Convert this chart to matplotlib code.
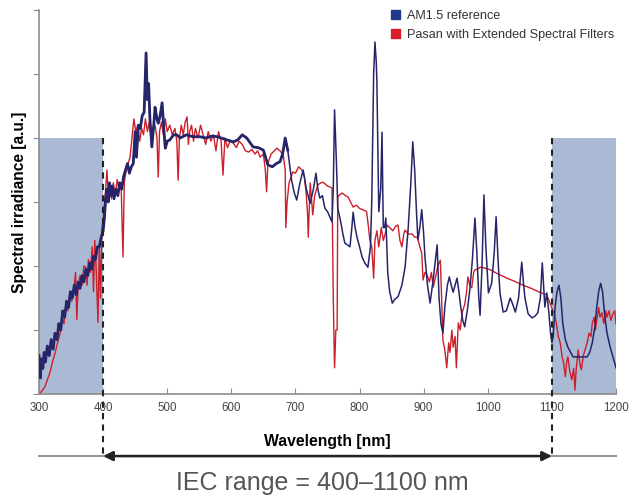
import numpy as np
import matplotlib
matplotlib.use("Agg")
import matplotlib.pyplot as plt
from matplotlib.patches import Patch

plt.rcParams['font.family'] = ['Liberation Sans', 'DejaVu Sans']

# AM1.5 reference spectrum (arbitrary units)
am15_nm = [300, 302, 304, 306, 308, 310, 313, 316, 319, 322, 325, 328, 331, 334, 337, 340, 343, 346, 349, 352,
           355, 358, 361, 364, 367, 370, 373, 376, 379, 382, 385, 388, 391, 394, 397, 400, 402, 404, 406, 408,
           410, 412, 414, 417, 420, 423, 426, 429, 432, 435, 438, 441, 444, 447, 450, 452, 455, 458, 461, 464,
           467, 469, 471, 473, 476, 479, 481, 484, 486, 489, 492, 495, 497, 500, 504, 510, 515, 520, 530, 540,
           551, 560, 570, 578, 590, 603, 610, 617, 624, 634, 642, 650, 657, 664, 670, 676, 680, 684, 688, 694,
           698, 702, 707, 712, 717, 723, 728, 732, 735, 738, 742, 746, 750, 757, 759, 761, 764, 766, 770, 774,
           777, 785, 788, 790, 793, 796, 800, 804, 808, 813, 817, 819, 822, 824, 826, 827, 829, 830, 833, 835,
           837, 839, 841, 844, 847, 851, 855, 860, 866, 871, 876, 880, 883, 886, 889, 891, 894, 897, 900, 902,
           906, 910, 915, 921, 924, 927, 930, 933, 937, 940, 943, 946, 949, 952, 955, 957, 961, 964, 968, 972,
           976, 980, 983, 986, 988, 991, 994, 997, 1001, 1006, 1010, 1013, 1016, 1019, 1024, 1029, 1035, 1039,
           1043, 1048, 1053, 1056, 1058, 1063, 1069, 1074, 1078, 1082, 1085, 1087, 1089, 1092, 1095, 1098, 1100,
           1102, 1105, 1108, 1111, 1114, 1117, 1121, 1125, 1133, 1145, 1155, 1159, 1163, 1167, 1170, 1173, 1176,
           1179, 1182, 1186, 1191, 1196, 1200]
am15_val = [0.6, 0.25, 0.55, 0.4, 0.65, 0.5, 0.75, 0.6, 0.85, 0.7, 0.95, 0.85, 1.1, 1.0, 1.3, 1.2, 1.45, 1.35, 1.6, 1.5,
            1.7, 1.55, 1.75, 1.65, 1.85, 1.75, 1.95, 1.85, 2.05, 1.95, 2.15, 2.1, 2.3, 2.3, 2.45, 2.55, 2.75, 3.05, 3.2, 3.0,
            3.3, 3.1, 3.25, 3.05, 3.2, 3.1, 3.3, 3.2, 3.4, 3.5, 3.6, 3.45, 3.55, 3.6, 4.1, 3.7, 4.2, 4.15, 4.35, 4.4,
            5.33, 4.6, 4.85, 4.3, 3.86, 4.2, 4.48, 4.3, 4.23, 4.35, 4.55, 4.1, 3.84, 3.95, 3.97, 4.05, 4.05, 4.0, 4.05, 4.02,
            4.02, 4.0, 4.03, 4.02, 3.98, 3.94, 3.97, 4.05, 4.0, 3.86, 3.85, 3.81, 3.58, 3.55, 3.6, 3.63, 3.75, 4.0, 3.81, 3.34,
            3.15, 3.03, 3.3, 3.5, 3.2, 2.98, 3.2, 3.45, 3.2, 3.06, 3.1, 2.9, 2.85, 2.69, 3.2, 4.44, 3.6, 2.9, 2.72, 2.5,
            2.36, 2.3, 2.6, 2.84, 2.6, 2.45, 2.3, 2.14, 2.05, 1.98, 2.3, 3.0, 5.0, 5.5, 5.2, 4.9, 3.5, 2.85, 3.2, 4.09,
            2.6, 2.6, 2.75, 1.89, 1.6, 1.42, 1.48, 1.52, 1.7, 1.98, 2.61, 3.3, 3.94, 3.5, 2.8, 2.41, 2.6, 2.88, 2.5, 2.14,
            1.7, 1.42, 1.8, 2.33, 1.5, 1.1, 0.95, 1.36, 1.7, 1.83, 1.7, 1.59, 1.7, 1.81, 1.6, 1.42, 1.15, 1.05, 1.3, 1.63,
            2.1, 2.75, 2.2, 1.5, 1.23, 2.0, 3.11, 2.3, 1.58, 1.73, 2.2, 2.77, 2.1, 1.58, 1.28, 1.3, 1.5, 1.4,
            1.28, 1.5, 2.06, 1.7, 1.5, 1.25, 1.19, 1.22, 1.27, 1.5, 2.05, 1.7, 1.36, 1.58, 1.3, 0.95, 0.8,
            0.9, 1.36, 1.6, 1.7, 1.5, 1.1, 0.85, 0.73, 0.58, 0.58, 0.58, 0.65, 0.8, 1.05, 1.36, 1.6, 1.73,
            1.6, 1.27, 0.95, 0.73, 0.55, 0.41]

# Pasan simulator with extended spectral filters
pasan_nm = [300, 305, 309, 313, 317, 321, 325, 329, 333, 336, 339, 342, 345, 348, 351, 354, 357, 359, 361, 364,
            367, 370, 373, 375, 377, 380, 383, 385, 387, 389, 392, 394, 396, 398, 400, 402, 404, 406, 408, 410,
            413, 416, 419, 422, 425, 428, 431, 433, 436, 439, 442, 445, 448, 451, 454, 457, 460, 463, 466, 469,
            472, 475, 478, 481, 484, 486, 488, 491, 494, 497, 500, 504, 508, 512, 515, 517, 519, 522, 525, 528,
            531, 533, 535, 538, 541, 544, 548, 552, 556, 560, 564, 568, 572, 576, 580, 584, 587, 590, 594, 598,
            603, 608, 612, 617, 622, 627, 632, 637, 641, 645, 650, 653, 655, 657, 662, 667, 671, 676, 681, 684,
            685, 687, 690, 696, 700, 705, 710, 714, 717, 719, 720, 722, 723, 727, 730, 735, 740, 743, 750, 757,
            758, 759, 761, 763, 765, 766, 770, 773, 778, 782, 786, 790, 795, 800, 805, 811, 814, 816, 819, 822,
            824, 827, 830, 834, 837, 840, 843, 847, 852, 856, 860, 863, 866, 869, 871, 876, 882, 886, 890, 894,
            897, 899, 902, 905, 909, 912, 915, 919, 922, 926, 928, 930, 933, 936, 939, 941, 944, 946, 949, 951,
            954, 957, 960, 964, 967, 969, 972, 975, 978, 980, 984, 988, 995, 1004, 1015, 1030, 1042, 1055, 1068,
            1081, 1092, 1096, 1101, 1104, 1107, 1110, 1113, 1116, 1118, 1121, 1123, 1125, 1128, 1131, 1134, 1136,
            1138, 1141, 1144, 1146, 1149, 1152, 1155, 1158, 1161, 1163, 1166, 1168, 1170, 1173, 1175, 1178, 1181,
            1184, 1186, 1189, 1192, 1195, 1198, 1200]
pasan_val = [0.0, 0.05, 0.11, 0.22, 0.33, 0.5, 0.64, 0.8, 0.95, 1.2, 1.1, 1.4, 1.3, 1.55, 1.45, 1.6, 1.9, 1.16, 1.7, 1.85,
             1.7, 2.0, 1.98, 1.7, 2.1, 1.9, 2.3, 1.6, 2.4, 2.0, 1.12, 2.3, 1.5, 2.6, 2.7, 3.0, 3.2, 3.5, 3.1, 3.3,
             3.05, 3.3, 3.1, 3.35, 3.2, 3.3, 2.14, 3.3, 3.5, 3.6, 3.7, 4.0, 4.3, 4.1, 4.2, 3.95, 4.15, 4.05, 4.3, 4.1,
             4.25, 4.0, 4.15, 4.2, 4.0, 3.39, 4.1, 4.25, 4.05, 4.3, 4.1, 4.2, 4.05, 4.15, 3.95, 3.34, 4.0, 4.2, 4.05, 4.25,
             4.33, 3.9, 4.1, 4.2, 3.95, 4.15, 4.0, 4.2, 4.05, 3.9, 4.1, 3.95, 4.05, 3.8, 4.1, 3.95, 3.42, 4.0, 3.85, 3.95,
             3.92, 3.85, 3.95, 3.9, 3.8, 3.78, 3.82, 3.75, 3.8, 3.7, 3.75, 3.5, 3.16, 3.6, 3.75, 3.8, 3.84, 3.8, 3.73, 3.5,
             2.6, 3.0, 3.3, 3.47, 3.45, 3.55, 3.5, 3.4, 3.1, 2.8, 2.45, 3.0, 3.3, 2.8, 3.1, 3.27, 3.3, 3.31, 3.25, 3.22,
             2.4, 1.5, 0.41, 1.0, 1.0, 3.08, 3.12, 3.14, 3.1, 3.08, 3.0, 2.92, 2.95, 2.9, 2.88, 2.85, 2.6, 2.41, 2.3, 1.81,
             2.4, 2.55, 2.3, 2.6, 2.4, 2.5, 2.64, 2.6, 2.55, 2.62, 2.64, 2.4, 2.3, 2.5, 2.56, 2.5, 2.5, 2.45, 2.45, 2.3,
             2.2, 1.78, 1.9, 1.87, 1.75, 1.9, 1.67, 1.85, 2.0, 2.09, 1.5, 0.84, 0.69, 0.41, 0.8, 0.65, 1.0, 0.73, 0.9, 0.41,
             1.11, 1.0, 1.27, 1.4, 1.6, 1.83, 1.7, 1.66, 1.9, 1.94, 1.95, 1.98, 1.97, 1.94, 1.88, 1.81, 1.76, 1.7, 1.65,
             1.59, 1.55, 1.45, 1.31, 1.25, 1.1, 0.9, 0.8, 0.58, 0.5, 0.27, 0.5, 0.58, 0.35, 0.22, 0.4, 0.06,
             0.4, 0.69, 0.45, 0.38, 0.6, 0.7, 0.8, 0.95, 0.9, 1.11, 1.2, 1.0, 1.15, 1.35, 1.2, 1.27, 1.1,
             1.3, 1.2, 1.3, 1.15, 1.25, 1.3, 1.1]

iec_lo, iec_hi = 400, 1100
xticks = list(range(300, 1201, 100))

blue = '#26256a'
red = '#cc1f2c'
shade = '#aabad5'
grey = '#8c8c8c'

fig = plt.figure(figsize=(6.34, 4.97), dpi=100)
ax = fig.add_axes([39/634, 103/497, 577/634, 384/497])

ax.axvspan(300, iec_lo, ymin=0, ymax=4/6, color=shade, lw=0, zorder=0)
ax.axvspan(iec_hi, 1200, ymin=0, ymax=4/6, color=shade, lw=0, zorder=0)

am15_nm = np.array(am15_nm)
am15_val = np.array(am15_val)
ax.plot(pasan_nm, pasan_val, color=red, lw=1.0, zorder=2)
ax.plot(am15_nm, am15_val, color=blue, lw=1.1, zorder=3)
noisy = am15_nm <= 690
ax.plot(am15_nm[noisy], am15_val[noisy], color=blue, lw=2.0, zorder=3)

ax.set_xlim(300, 1200)
ax.set_ylim(0, 6)
ax.set_xticks(xticks)
ax.set_yticks(range(0, 7))
ax.set_yticklabels([])
ax.tick_params(axis='x', direction='in', length=4, color=grey, labelsize=8.3, labelcolor='#444444', pad=6)
ax.tick_params(axis='y', direction='out', length=4, color=grey)
for s in ['top', 'right']:
    ax.spines[s].set_visible(False)
for s in ['left', 'bottom']:
    ax.spines[s].set_color(grey)
    ax.spines[s].set_linewidth(1.2)

ax.set_xlabel('Wavelength [nm]', fontsize=11.3, fontweight='bold', labelpad=14)
ax.set_ylabel('Spectral irradiance [a.u.]', fontsize=11.2, fontweight='bold')
ax.yaxis.set_label_coords(-0.02, 0.5)

# IEC range marker below the axis
y_arrow = -0.97
for xv in (iec_lo, iec_hi):
    ax.plot([xv, xv], [4, y_arrow], color='#222222', lw=1.5, ls=(0, (3, 2.5)), clip_on=False, zorder=4)
ax.plot([300, 1200], [y_arrow, y_arrow], color='#999999', lw=1.5, clip_on=False, zorder=1)
ax.annotate('', xy=(iec_lo, y_arrow), xytext=(iec_hi, y_arrow), annotation_clip=False,
            arrowprops=dict(arrowstyle='<|-|>', color='#222222', lw=1.8, shrinkA=0, shrinkB=0,
                            mutation_scale=14))
fig.text(322/634, 14/497, 'IEC range = 400\u20131100 nm', ha='center', va='center',
         fontsize=18, color='#555555')

handles = [Patch(color='#1f3a8c', label='AM1.5 reference'),
           Patch(color='#d61f2a', label='Pasan with Extended Spectral Filters')]
ax.legend(handles=handles, loc='upper left', bbox_to_anchor=(0.591, 1.03), frameon=False,
          fontsize=9.1, handlelength=0.7, handleheight=0.7, handletextpad=0.5, labelspacing=0.55,
          labelcolor='#333333')

fig.savefig('out.png', dpi=100)
